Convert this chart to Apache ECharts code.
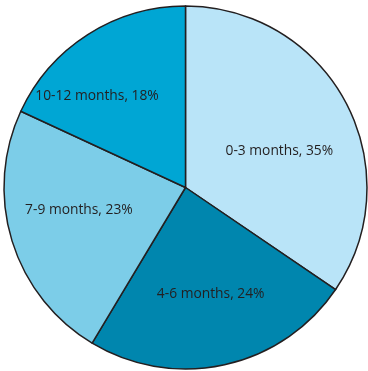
<!DOCTYPE html>
<html>
<head>
<meta charset="utf-8">
<script src="https://cdn.jsdelivr.net/npm/echarts@6/dist/echarts.min.js"></script>
<style>html,body{margin:0;padding:0;background:#fff}#c{width:368px;height:371px}</style>
</head>
<body>
<div id="c"></div>
<script>
var categories = ['0-3 months', '4-6 months', '7-9 months', '10-12 months'];
var values = [34.5, 24.1, 23.3, 18.1];
var labelPercents = [35, 24, 23, 18];
var colors = ['#b9e4f8', '#0086ae', '#7ccde8', '#00a6d4'];
var labelOffsets = [[11, 7], [5, 15], [-17, -5], [-38, -12]];

var chart = echarts.init(document.getElementById('c'), null, {renderer: 'canvas'});
chart.setOption({
  animation: false,
  series: [{
    type: 'pie',
    center: [185.5, 187.5],
    radius: [0, 181.5],
    startAngle: 90,
    clockwise: true,
    data: categories.map(function (c, i) {
      return {
        name: c, value: values[i],
        itemStyle: {color: colors[i]},
        label: {offset: labelOffsets[i]}
      };
    }),
    itemStyle: {borderColor: '#231f20', borderWidth: 1.5},
    label: {
      show: true, position: 'inside',
      formatter: function (p) { return p.name + ', ' + labelPercents[p.dataIndex] + '%'; },
      color: '#231f20', fontSize: 13.8, fontFamily: 'Open Sans'
    },
    labelLine: {show: false},
    emphasis: {disabled: true}
  }]
});
</script>
</body>
</html>
